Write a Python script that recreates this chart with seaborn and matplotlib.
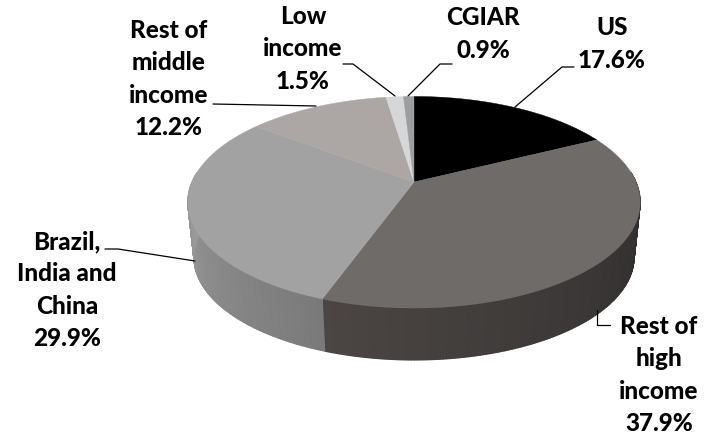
#!/usr/bin/env python3
"""
Perspective 3D pie of research spending shares, drawn in pixel coordinates.
"""

import numpy as np
import matplotlib.pyplot as plt
import seaborn as sns

# Shares run clockwise from 12 o'clock
categories = ['US', 'Rest of\nhigh\nincome', 'Brazil,\nIndia and\nChina',
              'Rest of\nmiddle\nincome', 'Low\nincome', 'CGIAR']
shares = [17.6, 37.9, 29.9, 12.2, 1.5, 0.9]
top_colors = ['#000000', '#6f6b69', '#a3a2a3', '#aca7a5', '#d5d7d8', '#9c9e9f']
wall_from = ['#000000', '#2c2a2a', '#7a7a7a', '#a0a0a0', '#a0a0a0', '#a0a0a0']
wall_to = ['#000000', '#4b4644', '#9e9e9e', '#a0a0a0', '#a0a0a0', '#a0a0a0']


def project(theta, y0, a, b, k=0.1915, cx=414.0):
    """Map a point on the unit disc rim to the picture."""
    x, y = np.sin(theta), np.cos(theta)
    d = 1 + k * y
    return cx + a * x / d, y0 - b * y / d


def top_rim(theta):
    return project(theta, 182.0, 222.0, 101.9)


def bottom_rim(theta):
    return project(theta, 237.6, 216.0, 99.0)


def draw_pie(ax):
    edges = np.radians(np.concatenate([[0], np.cumsum(shares)]) * 3.6)

    # Side wall first, a shaded mesh between the two rims
    for i in range(len(shares)):
        ts = np.linspace(edges[i], edges[i + 1], 200)
        ts = ts[np.cos(ts) < 0.1]
        if len(ts) < 2:
            continue
        xt, yt = top_rim(ts)
        xb, yb = bottom_rim(ts)
        shade = np.linspace(0, 1, len(ts))
        cmap = sns.blend_palette([wall_from[i], wall_to[i]], as_cmap=True)
        ax.pcolormesh(np.vstack([xt, xb]), np.vstack([yt, yb]),
                      np.vstack([shade, shade]), shading='gouraud',
                      cmap=cmap, vmin=0, vmax=1)

    # Top surface
    for i in range(len(shares)):
        ts = np.linspace(edges[i], edges[i + 1], 120)
        xs, ys = top_rim(ts)
        ax.fill(np.r_[414.0, xs], np.r_[182.0, ys], color=top_colors[i], lw=0.3)


def draw_labels(ax):
    pct = [f'{s:.1f}%' for s in shares]
    spots = [(612, 44), (659, 375), (67, 290), (169, 79), (303, 49), (483, 34)]
    for name, p, (x, y) in zip(categories, pct, spots):
        ax.text(x, y, f'{name}\n{p}', ha='center', va='center', fontsize=17.5,
                fontweight='black', color='#000000', linespacing=1.48)

    leaders = [
        ([515, 562, 574], [107, 67, 67]),
        ([597, 597, 610], [310, 325, 325]),
        ([195, 118, 105], [261, 249, 249]),
        ([213, 316], [104, 106]),
        ([395, 353, 343], [96, 64, 64]),
        ([408, 440, 452], [96, 64, 64]),
    ]
    for xs, ys in leaders:
        ax.plot(xs, ys, color='#000000', lw=0.9)


def main():
    sns.set_theme(style='white')
    plt.rcParams['font.family'] = ['Lato', 'DejaVu Sans']

    fig = plt.figure(figsize=(7.11, 4.40), dpi=100)
    ax = fig.add_axes([0, 0, 1, 1])
    draw_pie(ax)
    draw_labels(ax)
    ax.set_xlim(0, 711)
    ax.set_ylim(440, 0)
    ax.axis('off')

    fig.savefig('out.png', dpi=100)


if __name__ == '__main__':
    main()
